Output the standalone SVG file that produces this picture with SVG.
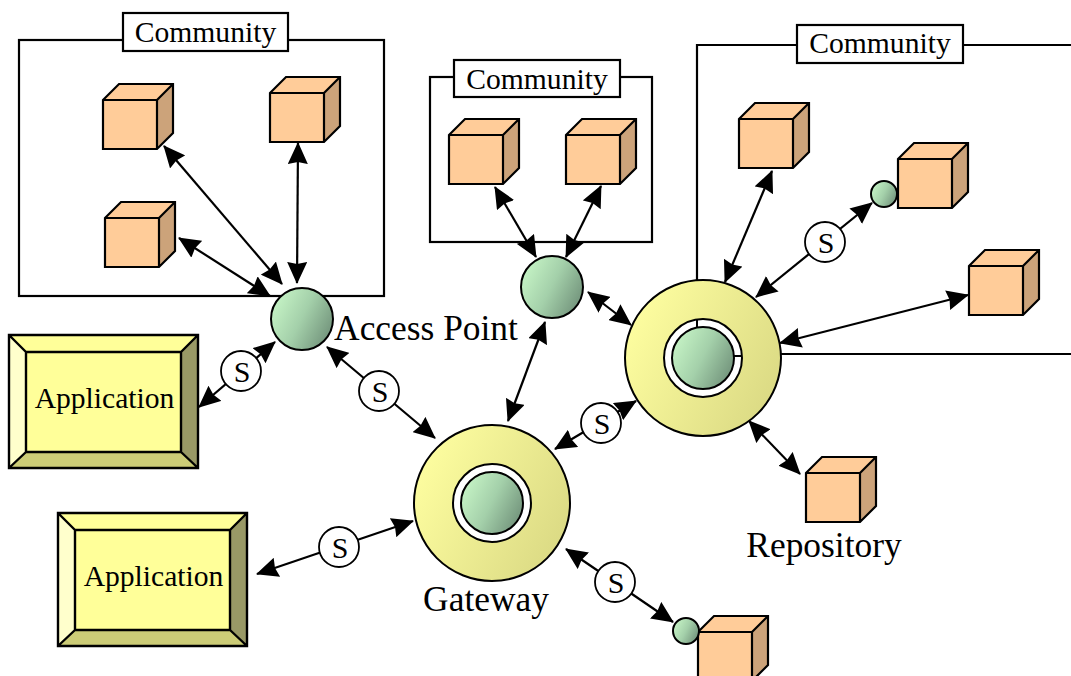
<svg xmlns="http://www.w3.org/2000/svg" width="1071" height="676" viewBox="0 0 1071 676">
<style>
text{font-family:"Liberation Serif","Times New Roman",serif;fill:#000;text-anchor:middle}
.c{font-size:29.6px}.l{font-size:35.4px}.s{font-size:30px}
.o{fill:none;stroke:#000;stroke-width:2.2}
.lb{fill:#fff;stroke:#000;stroke-width:2.2}
.e{stroke:#000;stroke-width:2.2;fill:none;marker-start:url(#a);marker-end:url(#a)}
.sc{fill:#fff;stroke:#000;stroke-width:1.8}
.b{stroke:#000;stroke-width:2}
</style>
<defs>
<marker id="a" viewBox="0 0 22 20" refX="21" refY="10" markerWidth="22" markerHeight="20" markerUnits="userSpaceOnUse" orient="auto-start-reverse"><path d="M0 0L22 10L0 20L2 10Z" fill="#000"/></marker>
<linearGradient id="g" x1="0.1" y1="0.15" x2="1" y2="0.6"><stop offset="0" stop-color="#c4f2c4"/><stop offset="0.5" stop-color="#a4d0aa"/><stop offset="1" stop-color="#76987f"/></linearGradient>
<linearGradient id="y" x1="0.1" y1="0.15" x2="1" y2="0.6"><stop offset="0" stop-color="#fdfd9f"/><stop offset="1" stop-color="#dcdb85"/></linearGradient>
<g id="cube"><path d="M0 0L16-16H70V33L54 49H0Z" fill="#ffcc99"/><path d="M54 0L70-16V33L54 49Z" fill="#cca37a"/><path d="M0 0L16-16H70V33L54 49H0ZM0 0H54V49M54 0L70-16" fill="none" stroke="#000" stroke-width="2.200"/></g>
<g id="app"><path d="M0 0L17 17V117L0 133Z" fill="#ffffcc"/><path d="M0 0H189L172 17H17Z" fill="#ffff99"/><path d="M189 0V133L172 117V17Z" fill="#999966"/><path d="M0 133H189L172 117H17Z" fill="#cccc77"/><rect x="17" y="17" width="155" height="100" fill="#ffff99"/><path d="M0 0H189V133H0ZM17 17H172V117H17ZM0 0L17 17M189 0L172 17M0 133L17 117M189 133L172 117" fill="none" stroke="#000" stroke-width="2.400"/></g>
</defs>
<rect width="1071" height="676" fill="#fff"/>
<g id="community-1"><rect class="o" x="19" y="40" width="365" height="256"/><rect class="lb" x="123" y="13" width="165" height="38"/><text class="c" x="205.500" y="42">Community</text></g>
<g id="community-2"><rect class="o" x="430" y="77" width="222" height="165"/><rect class="lb" x="454" y="60" width="166" height="37"/><text class="c" x="537" y="89">Community</text></g>
<g id="community-3"><path class="o" d="M697 285V45H1071M780 354H1071"/><rect class="lb" x="797" y="25" width="166" height="38"/><text class="c" x="880" y="53">Community</text></g>
<g id="connectors">
<path class="e" d="M164 146L282 284"/>
<path class="e" d="M298 143L297 283"/>
<path class="e" d="M179 238L270 296"/>
<path class="e" d="M495 187L536 257"/>
<path class="e" d="M601 186L566 257"/>
<path class="e" d="M772 171L725 282"/>
<path class="e" d="M872 203L756 297"/>
<path class="e" d="M968 295L780 343"/>
<path class="e" d="M588 292L631 325"/>
<path class="e" d="M545 322L508 421"/>
<path class="e" d="M327 347L435 438"/>
<path class="e" d="M275 342L199 407"/>
<path class="e" d="M413 521L257 574"/>
<path class="e" d="M636 401L555 449"/>
<path class="e" d="M749 421L800 474"/>
<path class="e" d="M566 549L673 622"/>
</g>
<g id="cube-1"><use href="#cube" x="103" y="100"/></g>
<g id="cube-2"><use href="#cube" x="270" y="93"/></g>
<g id="cube-3"><use href="#cube" x="105" y="218"/></g>
<g id="cube-4"><use href="#cube" x="449" y="135"/></g>
<g id="cube-5"><use href="#cube" x="566" y="135"/></g>
<g id="cube-6"><use href="#cube" x="739" y="119"/></g>
<g id="cube-7"><use href="#cube" x="898" y="159"/></g>
<g id="cube-8"><use href="#cube" x="969" y="266"/></g>
<g id="cube-9"><use href="#cube" x="806" y="473"/></g>
<g id="cube-10"><use href="#cube" x="698" y="632"/></g>
<g id="app-1"><use href="#app" x="9" y="335"/><text class="c" x="104.500" y="408">Application</text></g>
<g id="app-2"><use href="#app" x="58" y="513"/><text class="c" x="153.500" y="586">Application</text></g>
<g id="access-point"><circle class="b" cx="302" cy="319" r="31" fill="url(#g)"/><text class="l" x="426" y="340">Access Point</text></g>
<g id="access-point-2"><circle class="b" cx="552" cy="287" r="31" fill="url(#g)"/></g>
<g id="small-1"><circle class="b" cx="884" cy="194" r="13" fill="url(#g)"/></g>
<g id="small-2"><circle class="b" cx="686" cy="631" r="13" fill="url(#g)"/></g>
<g id="gateway"><circle class="b" cx="492" cy="503" r="78" fill="url(#y)"/><circle class="b" cx="492" cy="503" r="39" fill="#fff"/><circle class="b" cx="492" cy="503" r="31" fill="url(#g)"/><text class="l" x="486" y="611">Gateway</text></g>
<g id="gateway-2"><circle class="b" cx="703" cy="358" r="78" fill="url(#y)"/><circle class="b" cx="703" cy="358" r="39" fill="#fff"/><path class="b" d="M697 319V328M733 356H742"/><circle class="b" cx="703" cy="358" r="31" fill="url(#g)"/></g>
<g id="repository-label"><text class="l" x="824" y="557">Repository</text></g>
<g id="s-1"><circle class="sc" cx="241" cy="371" r="20"/><text class="s" x="242" y="382">S</text></g>
<g id="s-2"><circle class="sc" cx="379" cy="391" r="20"/><text class="s" x="380" y="402">S</text></g>
<g id="s-3"><circle class="sc" cx="339" cy="547" r="20"/><text class="s" x="340" y="558">S</text></g>
<g id="s-4"><circle class="sc" cx="601" cy="423" r="20"/><text class="s" x="602" y="434">S</text></g>
<g id="s-5"><circle class="sc" cx="825" cy="242" r="20"/><text class="s" x="826" y="253">S</text></g>
<g id="s-6"><circle class="sc" cx="615" cy="582" r="20"/><text class="s" x="616" y="593">S</text></g>
</svg>
